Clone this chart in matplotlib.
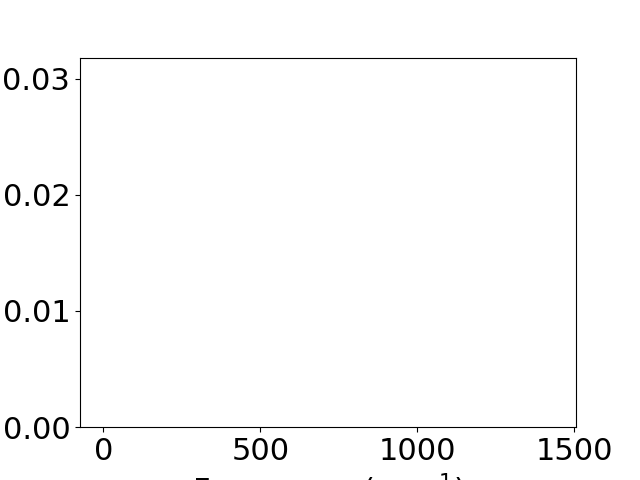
import matplotlib
matplotlib.use("Agg")
import matplotlib.pyplot as plt

frequency = []  # cm^-1 (no visible data)
intensity = []

plt.rcParams['font.size'] = 22
fig, ax = plt.subplots(figsize=(6.4, 4.8), dpi=100)
ax.plot(frequency, intensity)
ax.set_xlim(-74, 1505)
ax.set_ylim(0, 0.0318)
ax.set_xticks([0, 500, 1000, 1500])
ax.set_yticks([0.00, 0.01, 0.02, 0.03])
ax.set_xlabel("Frequency (cm$^{-1}$)")
fig.savefig("out.png", dpi=100)
